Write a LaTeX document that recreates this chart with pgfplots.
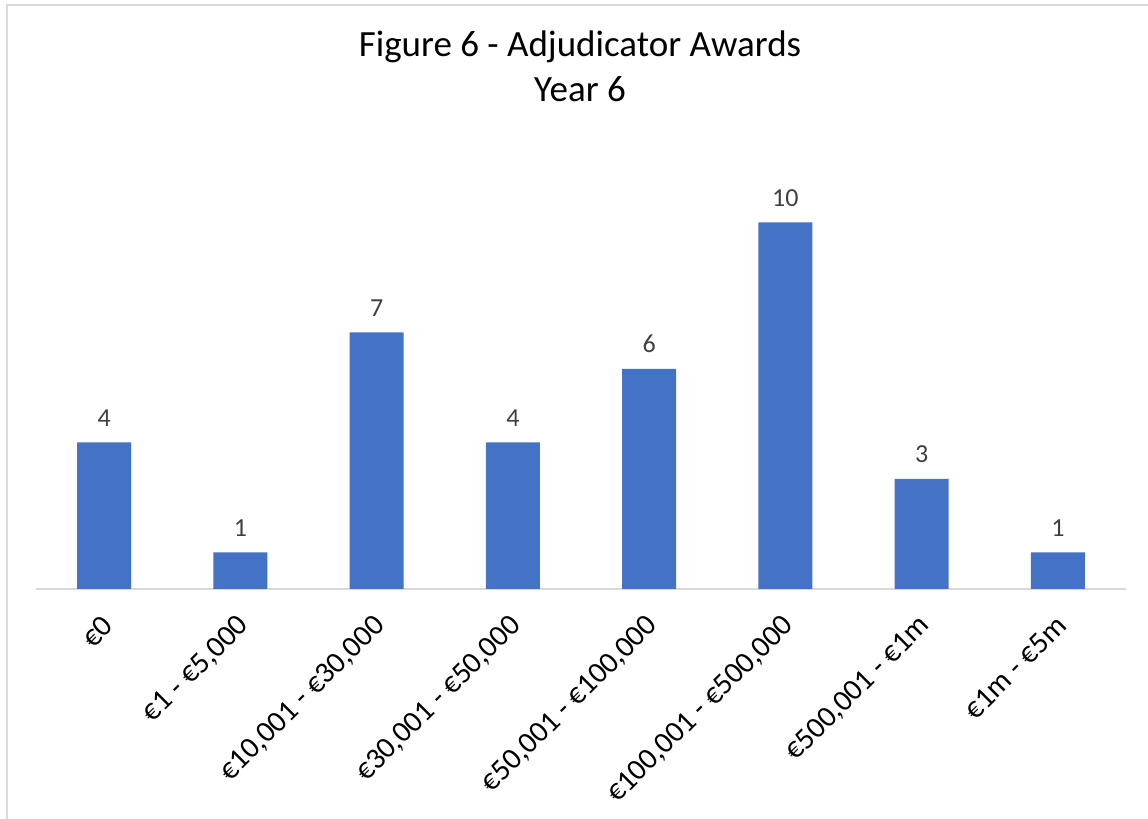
\documentclass[border=0pt]{standalone}
\usepackage{pgfplots}
\pgfplotsset{compat=1.18}
\usepackage{fontspec}
\setmainfont{Carlito}
\definecolor{barblue}{HTML}{4472C4}
\definecolor{lblgray}{HTML}{404040}
\definecolor{linegray}{HTML}{D9D9D9}
\begin{document}
\begin{tikzpicture}
\path[use as bounding box] (0,0) rectangle (574pt,409.5pt);
\draw[linegray, line width=1pt] (3.5pt,0) -- (3.5pt,407pt) -- (574pt,407pt);
\node[anchor=base, font=\fontsize{18.5}{22}\selectfont] at (290pt,381pt) {Figure 6 - Adjudicator Awards};
\node[anchor=base, font=\fontsize{18.5}{22}\selectfont] at (290pt,358.5pt) {Year 6};
\begin{axis}[
  at={(18pt,115pt)}, anchor=south west,
  scale only axis, width=545pt, height=220pt,
  xmin=-0.5, xmax=7.5, ymin=0, ymax=12,
  axis x line*=bottom, axis y line=none,
  x axis line style={draw=linegray, line width=0.75pt, -},
  major tick length=0pt,
  xtick=data,
  xticklabels={€0, €1 - €5{,}000, €10{,}001 - €30{,}000, €30{,}001 - €50{,}000, €50{,}001 - €100{,}000, €100{,}001 - €500{,}000, €500{,}001 - €1m, €1m - €5m},
  xticklabel style={xshift=2pt, yshift=-16pt, rotate=45, anchor=east, inner sep=0pt, font=\fontsize{15}{18}\selectfont},
  /pgf/number format/assume math mode=true,
  ybar, bar width=27pt,
  nodes near coords,
  nodes near coords style={anchor=base, yshift=8pt, inner sep=0pt, text=lblgray, font=\fontsize{13}{15}\selectfont},
]
\addplot[fill=barblue, draw=none] coordinates {(0,4) (1,1) (2,7) (3,4) (4,6) (5,10) (6,3) (7,1)};
\end{axis}
\end{tikzpicture}
\end{document}
